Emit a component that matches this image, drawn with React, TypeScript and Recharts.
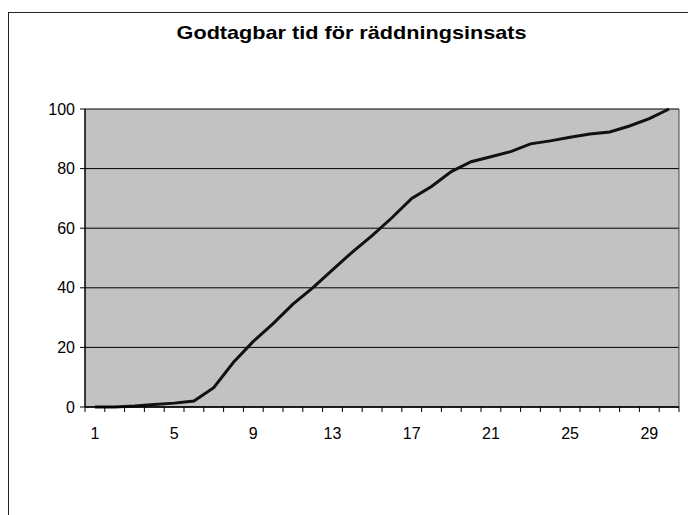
import React from "react";
import { LineChart, Line, XAxis, YAxis, CartesianGrid, ReferenceLine } from "recharts";

const categories = [1, 2, 3, 4, 5, 6, 7, 8, 9, 10, 11, 12, 13, 14, 15, 16, 17, 18, 19, 20, 21, 22, 23, 24, 25, 26, 27, 28, 29, 30];
const values = [0, 0, 0.3, 0.8, 1.3, 2, 6.5, 15, 22, 28, 34.5, 40, 46, 52, 57.5, 63.5, 70, 74, 79, 82.3, 84, 85.7, 88.3, 89.3, 90.5, 91.6, 92.3, 94.3, 96.8, 100];
const xLabelTicks = [1, 5, 9, 13, 17, 21, 25, 29];
const xBoundaryTicks = [0.5, 1.5, 2.5, 3.5, 4.5, 5.5, 6.5, 7.5, 8.5, 9.5, 10.5, 11.5, 12.5, 13.5, 14.5, 15.5, 16.5, 17.5, 18.5, 19.5, 20.5, 21.5, 22.5, 23.5, 24.5, 25.5, 26.5, 27.5, 28.5, 29.5, 30.5];
const yTicks = [0, 20, 40, 60, 80, 100];
const title = "Godtagbar tid för räddningsinsats";

const data = categories.map((c, i) => ({ x: c, v: values[i] }));
const allXTicks = [...xBoundaryTicks, ...xLabelTicks].sort((a, b) => a - b);

const FONT = "'Liberation Sans', Arial, sans-serif";

function XTick(props: any) {
  const { x, y, payload } = props;
  const v = payload.value;
  if (xLabelTicks.includes(v)) {
    return (
      <text x={x} y={y + 26} textAnchor="middle" dominantBaseline="central" fill="#000" fontSize={16} fontFamily={FONT}>
        {String(v)}
      </text>
    );
  }
  return <line x1={x} y1={y} x2={x} y2={y + 5} stroke="#000" strokeWidth={1} />;
}

export default function App() {
  return (
    <div
      style={{
        position: "relative",
        marginTop: 4,
        width: 684,
        height: 502,
        borderTop: "1px solid #222",
        borderLeft: "1px solid #222",
        borderRight: "1px solid #222",
        background: "#fff",
        fontFamily: FONT,
      }}
    >
      <div
        style={{
          position: "absolute",
          left: 0,
          width: 686,
          top: 9,
          textAlign: "center",
          color: "#000",
        }}
      >
        <span
          style={{
            display: "inline-block",
            fontWeight: "bold",
            fontSize: 18.5,
            transform: "scaleX(1.17)",
            transformOrigin: "center",
          }}
        >
          {title}
        </span>
      </div>
      <div style={{ position: "absolute", left: 0, top: 0 }}>
        <LineChart width={684} height={430} data={data} margin={{ top: 96, right: 14, bottom: 0, left: 0 }}>
          <CartesianGrid vertical={false} stroke="#000" strokeWidth={1} fill="#c2c2c2" fillOpacity={1} />
          <XAxis
            type="number"
            dataKey="x"
            domain={[0.5, 30.5]}
            ticks={allXTicks}
            interval={0}
            tick={<XTick />}
            tickLine={false}
            tickSize={0}
            tickMargin={0}
            height={36}
            axisLine={{ stroke: "#000", strokeWidth: 1.5 }}
            allowDataOverflow
          />
          <YAxis
            domain={[0, 100]}
            ticks={yTicks}
            width={76}
            tickSize={5}
            tickMargin={5}
            interval={0}
            axisLine={{ stroke: "#000", strokeWidth: 1.5 }}
            tickLine={{ stroke: "#000" }}
            tick={{ fill: "#000", fontSize: 16, fontFamily: FONT }}
          />
          <ReferenceLine x={30.5} stroke="#444" strokeWidth={1} />
          <Line
            type="linear"
            dataKey="v"
            stroke="#111"
            strokeWidth={3}
            dot={false}
            isAnimationActive={false}
          />
        </LineChart>
      </div>
    </div>
  );
}
